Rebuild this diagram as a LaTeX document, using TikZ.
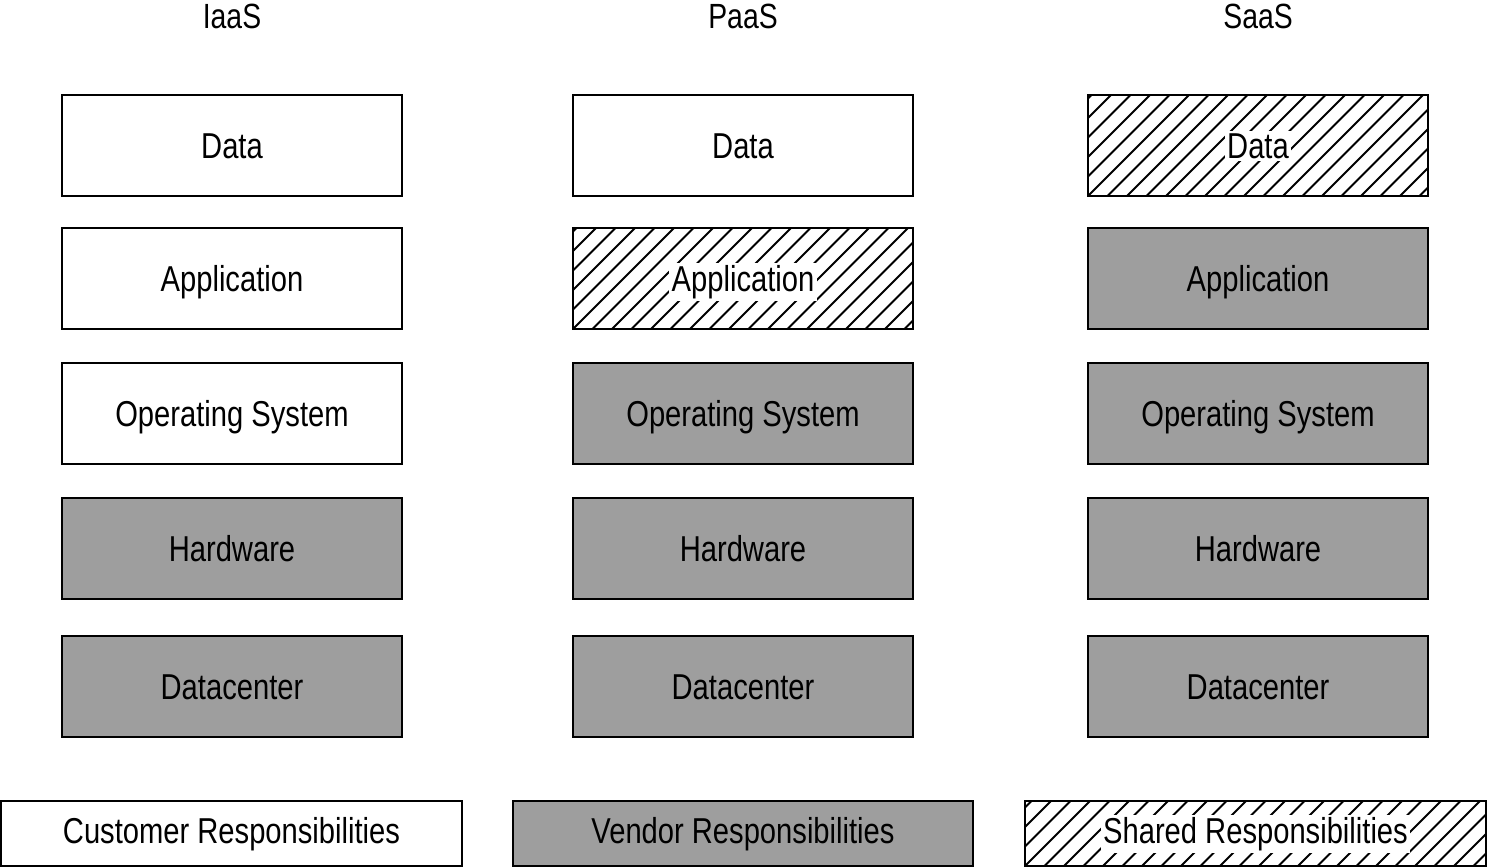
\documentclass[tikz,border=0pt]{standalone}
\usepackage{fontspec}
\setmainfont{Liberation Sans}[FakeStretch=0.81]
\definecolor{boxgrey}{HTML}{9E9E9E}
\tikzset{
  box/.style={draw=black, line width=2pt, minimum width=340pt, minimum height=101pt,
    inner sep=0pt, font=\fontsize{36}{42}\selectfont, text height=25.8pt, text depth=0pt},
  grey/.style={fill=boxgrey},
  hatch/.style={path picture={\foreach \k in {-7,...,26}{\draw[line width=2pt] ([xshift=\k*19.5pt]path picture bounding box.south west) -- ++(130pt,130pt);}}},
  lbl/.style={fill=white, inner sep=2.5pt, anchor=base, font=\fontsize{36}{42}\selectfont},
  legend/.style={box, minimum width=461pt, minimum height=65pt, text depth=6pt},
  title/.style={anchor=base, font=\fontsize{35}{40}\selectfont}
}
\begin{document}
\begin{tikzpicture}[x=1pt,y=-1pt]
\useasboundingbox (0,0) rectangle (1487,867);
% titles
\node[title] (t1) at (232,29) {IaaS};
\node[title] (t2) at (743,29) {PaaS};
\node[title] (t3) at (1258,29) {SaaS};
% IaaS
\node[box] (i1) at (232,145.5) {Data};
\node[box] (i2) at (232,278.5) {Application};
\node[box] (i3) at (232,413.5) {Operating System};
\node[box,grey] (i4) at (232,548.5) {Hardware};
\node[box,grey] (i5) at (232,686.5) {Datacenter};
% PaaS
\node[box] (p1) at (743,145.5) {Data};
\node[box,hatch] (p2) at (743,278.5) {};
\node[lbl] (p2t) at (743,291.4) {Application};
\node[box,grey] (p3) at (743,413.5) {Operating System};
\node[box,grey] (p4) at (743,548.5) {Hardware};
\node[box,grey] (p5) at (743,686.5) {Datacenter};
% SaaS
\node[box,hatch] (s1) at (1258,145.5) {};
\node[lbl] (s1t) at (1258,158.4) {Data};
\node[box,grey] (s2) at (1258,278.5) {Application};
\node[box,grey] (s3) at (1258,413.5) {Operating System};
\node[box,grey] (s4) at (1258,548.5) {Hardware};
\node[box,grey] (s5) at (1258,686.5) {Datacenter};
% legend
\node[legend] (l1) at (231.5,833.5) {Customer Responsibilities};
\node[legend,grey,minimum width=460pt] (l2) at (743,833.5) {Vendor Responsibilities};
\node[legend,hatch] (l3) at (1255.5,833.5) {};
\node[lbl] (l3t) at (1255.5,843.4) {Shared Responsibilities};
\end{tikzpicture}
\end{document}
